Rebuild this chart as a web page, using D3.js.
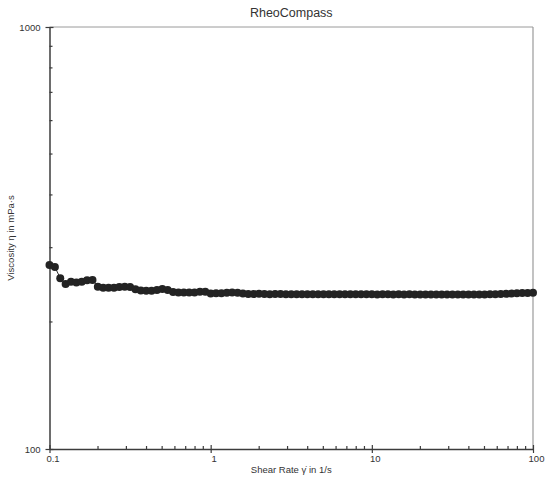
<!DOCTYPE html>
<html>
<head>
<meta charset="utf-8">
<script src="https://cdn.jsdelivr.net/npm/d3@7"></script>
<style>
  html, body { margin: 0; padding: 0; background: #fff; }
  svg { display: block; font-family: "Liberation Sans", Arial, sans-serif; }
</style>
</head>
<body>
<svg id="chart" width="550" height="484"></svg>
<script>
const title = "RheoCompass";
const xLabel = "Shear Rate \u03B3\u0307 in 1/s";
const yLabel = "Viscosity \u03B7 in mPa\u00B7s";
const xTickValues = [0.1, 1, 10, 100];
const xTickLabels = ["0.1", "1", "10", "100"];
const yTickValues = [100, 1000];
const yTickLabels = ["100", "1000"];

const shearRate = [
  0.1, 0.108, 0.1166, 0.1259, 0.1359, 0.1468, 0.1585, 0.1711, 0.1848, 0.1995,
  0.2154, 0.2326, 0.2512, 0.2712, 0.2929, 0.3162, 0.3415, 0.3687, 0.3981, 0.4299,
  0.4642, 0.5012, 0.5412, 0.5843, 0.631, 0.6813, 0.7356, 0.7943, 0.8577, 0.9261,
  1, 1.08, 1.166, 1.259, 1.359, 1.468, 1.585, 1.711, 1.848, 1.995,
  2.154, 2.326, 2.512, 2.712, 2.929, 3.162, 3.415, 3.687, 3.981, 4.299,
  4.642, 5.012, 5.412, 5.843, 6.31, 6.813, 7.356, 7.943, 8.577, 9.261,
  10, 10.8, 11.66, 12.59, 13.59, 14.68, 15.85, 17.11, 18.48, 19.95,
  21.54, 23.26, 25.12, 27.12, 29.29, 31.62, 34.15, 36.87, 39.81, 42.99,
  46.42, 50.12, 54.12, 58.43, 63.1, 68.13, 73.56, 79.43, 85.77, 92.61,
  100
];
const viscosity = [
  273, 270, 254, 246, 249, 248, 249, 251, 251.5, 242.5,
  241, 241, 241, 242, 242.5, 242, 239, 237.5, 237, 237,
  238, 239.5, 238, 235.5, 235, 235, 235, 235, 236, 236,
  233.5, 234, 234, 234.5, 235, 234.5, 233.5, 233, 233, 233.3,
  233, 232.8, 233, 233, 232.7, 232.7, 232.8, 232.6, 232.7, 232.6,
  232.5, 232.6, 232.7, 232.6, 232.5, 232.5, 232.6, 232.5, 232.5, 232.6,
  232.5, 232.4, 232.5, 232.5, 232.4, 232.5, 232.4, 232.5, 232.4, 232.4,
  232.3, 232.4, 232.3, 232.4, 232.3, 232.2, 232.3, 232.3, 232.2, 232.3,
  232.3, 232.4, 232.5, 232.7, 233, 233.2, 233.5, 233.8, 234.1, 234.4,
  234.6
];

const margin = { left: 49.5, right: 533, top: 27, bottom: 449 };
const svg = d3.select("#chart");

const x = d3.scaleLog().domain([0.1, 100]).range([margin.left, margin.right]);
const y = d3.scaleLog().domain([100, 1000]).range([margin.bottom, margin.top]);

const axisColor = "#3c3c3c";
const frameColor = "#9a9a9a";
const textColor = "#333";

svg.append("line").attr("x1", margin.left).attr("x2", margin.right)
  .attr("y1", margin.top).attr("y2", margin.top)
  .attr("stroke", frameColor).attr("stroke-width", 1);
svg.append("line").attr("x1", margin.right).attr("x2", margin.right)
  .attr("y1", margin.top).attr("y2", margin.bottom)
  .attr("stroke", frameColor).attr("stroke-width", 1.2);

const xMinor = [];
[0.1, 1, 10].forEach(d => { for (let k = 2; k <= 9; k++) xMinor.push(d * k); });
const yMinor = [];
for (let k = 2; k <= 9; k++) yMinor.push(100 * k);

const xAxis = d3.axisBottom(x).tickValues(xTickValues)
  .tickFormat((d, i) => xTickLabels[i]).tickSize(4).tickSizeOuter(0);
const gx = svg.append("g").attr("transform", `translate(0,${margin.bottom})`).call(xAxis);
gx.select(".domain").attr("stroke", axisColor).attr("stroke-width", 1.5);
gx.selectAll(".tick line").attr("stroke", axisColor).attr("y1", -4).attr("y2", 4).attr("stroke-width", 1.2);
gx.selectAll(".tick text").attr("fill", textColor).attr("font-size", 9.5)
  .attr("font-family", "Liberation Sans, Arial, sans-serif").attr("y", 6).attr("dx", 3);
gx.selectAll(".minor").data(xMinor).enter().append("line")
  .attr("class", "minor")
  .attr("x1", d => x(d)).attr("x2", d => x(d)).attr("y1", 0).attr("y2", -3)
  .attr("stroke", axisColor).attr("stroke-width", 1.2);

const yAxis = d3.axisLeft(y).tickValues(yTickValues)
  .tickFormat((d, i) => yTickLabels[i]).tickSize(4).tickSizeOuter(0);
const gy = svg.append("g").attr("transform", `translate(${margin.left},0)`).call(yAxis);
gy.select(".domain").attr("stroke", axisColor).attr("stroke-width", 1.5);
gy.selectAll(".tick line").attr("stroke", axisColor).attr("x1", -4).attr("x2", 4).attr("stroke-width", 1.2);
gy.selectAll(".tick text").attr("fill", textColor).attr("font-size", 9.5)
  .attr("font-family", "Liberation Sans, Arial, sans-serif").attr("x", -9);
gy.selectAll(".minor").data(yMinor).enter().append("line")
  .attr("class", "minor")
  .attr("y1", d => y(d)).attr("y2", d => y(d)).attr("x1", 0).attr("x2", 3)
  .attr("stroke", axisColor).attr("stroke-width", 1.2);

const pts = shearRate.map((d, i) => ({ g: d, v: viscosity[i] }));
svg.append("path").datum(pts)
  .attr("fill", "none").attr("stroke", "#333").attr("stroke-width", 1)
  .attr("d", d3.line().x(d => x(d.g)).y(d => y(d.v)));
svg.append("g").selectAll("circle").data(pts).enter().append("circle")
  .attr("cx", d => x(d.g)).attr("cy", d => y(d.v)).attr("r", 4)
  .attr("fill", "#232323");

svg.append("text").attr("x", (margin.left + margin.right) / 2).attr("y", 17)
  .attr("text-anchor", "middle").attr("font-size", 12.5).attr("fill", textColor)
  .text(title);
svg.append("text").attr("x", (margin.left + margin.right) / 2).attr("y", 473)
  .attr("text-anchor", "middle").attr("font-size", 9.5).attr("fill", textColor)
  .text(xLabel);
svg.append("text")
  .attr("transform", `translate(14,${(margin.top + margin.bottom) / 2}) rotate(-90)`)
  .attr("text-anchor", "middle").attr("font-size", 9.5).attr("fill", textColor)
  .text(yLabel);
</script>
</body>
</html>
